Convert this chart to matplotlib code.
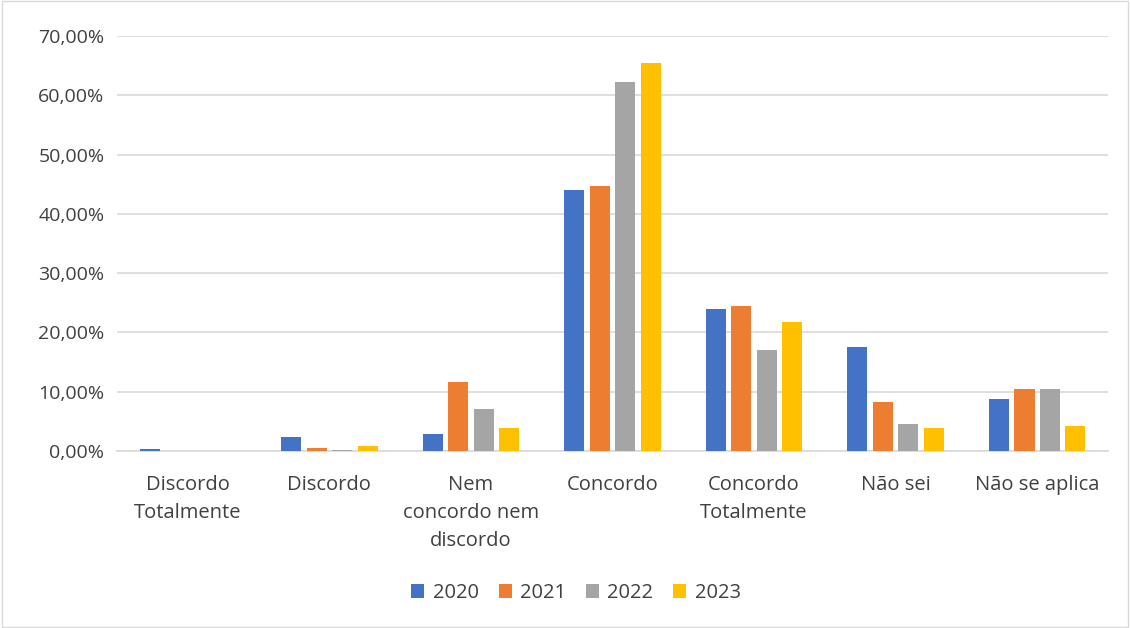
import matplotlib
matplotlib.use("Agg")
import matplotlib.pyplot as plt
import numpy as np
from matplotlib.ticker import FuncFormatter

categories = ["Discordo\nTotalmente", "Discordo", "Nem\nconcordo nem\ndiscordo", "Concordo",
              "Concordo\nTotalmente", "Não sei", "Não se aplica"]
years = ["2020", "2021", "2022", "2023"]
v2020 = [0.4, 2.4, 2.8, 44.0, 23.9, 17.5, 8.8]
v2021 = [0.0, 0.5, 11.6, 44.7, 24.5, 8.3, 10.4]
v2022 = [0.0, 0.2, 7.1, 62.3, 17.1, 4.6, 10.4]
v2023 = [0.0, 0.9, 3.8, 65.4, 21.7, 3.8, 4.3]
series = [v2020, v2021, v2022, v2023]
colors = ["#4472C4", "#ED7D31", "#A5A5A5", "#FFC000"]

plt.rcParams['font.family'] = ['Open Sans', 'DejaVu Sans']

fig = plt.figure(figsize=(11.30, 6.28), dpi=100)
ax = fig.add_axes([117/1130, 1-451/628, (1108-117)/1130, (451-36)/628])

x = np.arange(len(categories))
w = 0.142
step = 0.18
for i, (vals, c, yr) in enumerate(zip(series, colors, years)):
    ax.bar(x + (i - 1.5) * step, vals, width=w, color=c, label=yr, zorder=3)

ax.set_xlim(-0.5, len(categories) - 0.5)
ax.set_ylim(0, 70)
ax.set_yticks(np.arange(0, 71, 10))
ax.yaxis.set_major_formatter(FuncFormatter(lambda v, p: f"{v:.2f}%".replace(".", ",")))
ax.grid(axis='y', color='#D9D9D9', linewidth=1.2, zorder=0)
for s in ["top", "right", "left"]:
    ax.spines[s].set_visible(False)
ax.spines["bottom"].set_color('#D9D9D9')
ax.spines["bottom"].set_linewidth(1.2)
ax.set_xticks(x)
ax.set_xticklabels(categories, fontsize=14.5, color='#404040', linespacing=1.55)
ax.tick_params(axis='x', length=0, pad=17)
ax.tick_params(axis='y', length=0, labelsize=14, labelcolor='#404040', pad=9)

fig.legend(loc='center', bbox_to_anchor=(576/1130, 1-593/628), ncol=4, frameon=False,
           fontsize=14.5, handlelength=0.65, handleheight=0.65, columnspacing=1.0,
           handletextpad=0.4, labelcolor='#404040')

border = plt.Rectangle((0.002, 0.002), 0.996, 0.996, transform=fig.transFigure,
                       fill=False, edgecolor='#D9D9D9', linewidth=1)
fig.patches.append(border)

fig.savefig("out.png", dpi=100)
